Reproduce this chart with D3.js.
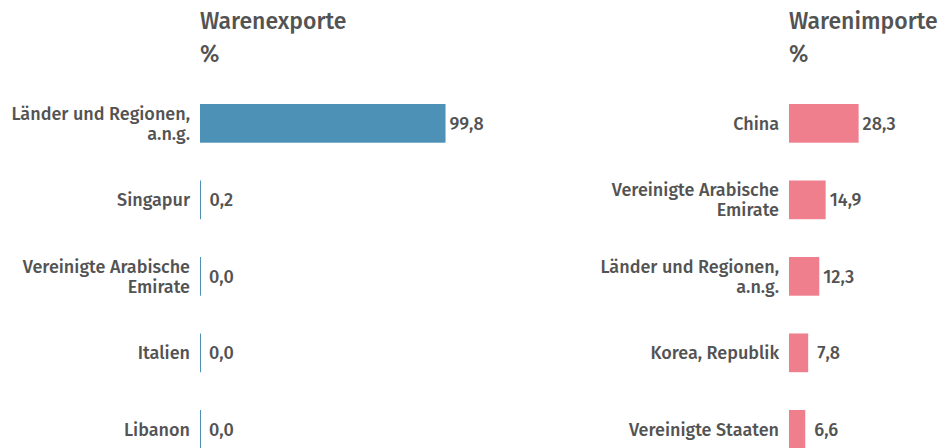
<html>
<head>
    <style>
        body { margin: 0; background: white; }
        text { font-family: "Fira Sans", "Open Sans", sans-serif; font-weight: 500; fill: #535353; }
    </style>
</head>
<body>
    <svg id="container" width="942" height="448"></svg>
</body>
<script src="https://cdn.jsdelivr.net/npm/d3@7"></script>
<script>
    let exportCountries = ["Länder und Regionen,\na.n.g.", "Singapur", "Vereinigte Arabische\nEmirate", "Italien", "Libanon"]
    let exportValues = [99.8, 0.2, 0.0, 0.0, 0.0]
    let importCountries = ["China", "Vereinigte Arabische\nEmirate", "Länder und Regionen,\na.n.g.", "Korea, Republik", "Vereinigte Staaten"]
    let importValues = [28.3, 14.9, 12.3, 7.8, 6.6]

    let svg = d3.select("#container")

    function drawPanel(left, title, countries, values, color) {
        let g = svg.append("g").attr("transform", "translate(" + left + ",0)")

        let x = d3.scaleLinear().domain([0, 100]).range([0, 246])
        let y = d3.scaleBand()
            .domain(countries)
            .range([104, 448.7])
            .paddingInner(0.494)
            .paddingOuter(0)

        g.append("text").attr("x", 0).attr("y", 29)
            .style("font-size", "23px").text(title)
        g.append("text").attr("x", 0).attr("y", 62)
            .style("font-size", "23px").text("%")

        let rows = g.selectAll(".row")
            .data(countries)
            .enter()
            .append("g")
            .attr("class", "row")

        rows.append("rect")
            .attr("x", 0)
            .attr("y", d => y(d))
            .attr("width", (d, i) => Math.max(x(values[i]), 1))
            .attr("height", y.bandwidth())
            .attr("fill", color)

        rows.append("text")
            .attr("x", (d, i) => x(values[i]) + (x(values[i]) < 20 ? 9 : 4))
            .attr("y", d => y(d) + y.bandwidth() / 2)
            .attr("dy", "0.35em")
            .style("font-size", "18px")
            .text((d, i) => d3.format(".1f")(values[i]).replace(".", ","))

        rows.each(function (d) {
            let lines = d.split("\n")
            let t = d3.select(this).append("text")
                .attr("text-anchor", "end")
                .style("font-size", "18px")
            let mid = y(d) + y.bandwidth() / 2
            lines.forEach((line, k) => {
                t.append("tspan")
                    .attr("x", -10)
                    .attr("y", mid + (k - (lines.length - 1) / 2) * 20)
                    .attr("dy", "0.35em")
                    .text(line)
            })
        })
    }

    drawPanel(200, "Warenexporte", exportCountries, exportValues, "#4d91b6")
    drawPanel(789, "Warenimporte", importCountries, importValues, "#f07f8e")
</script>
</html>
